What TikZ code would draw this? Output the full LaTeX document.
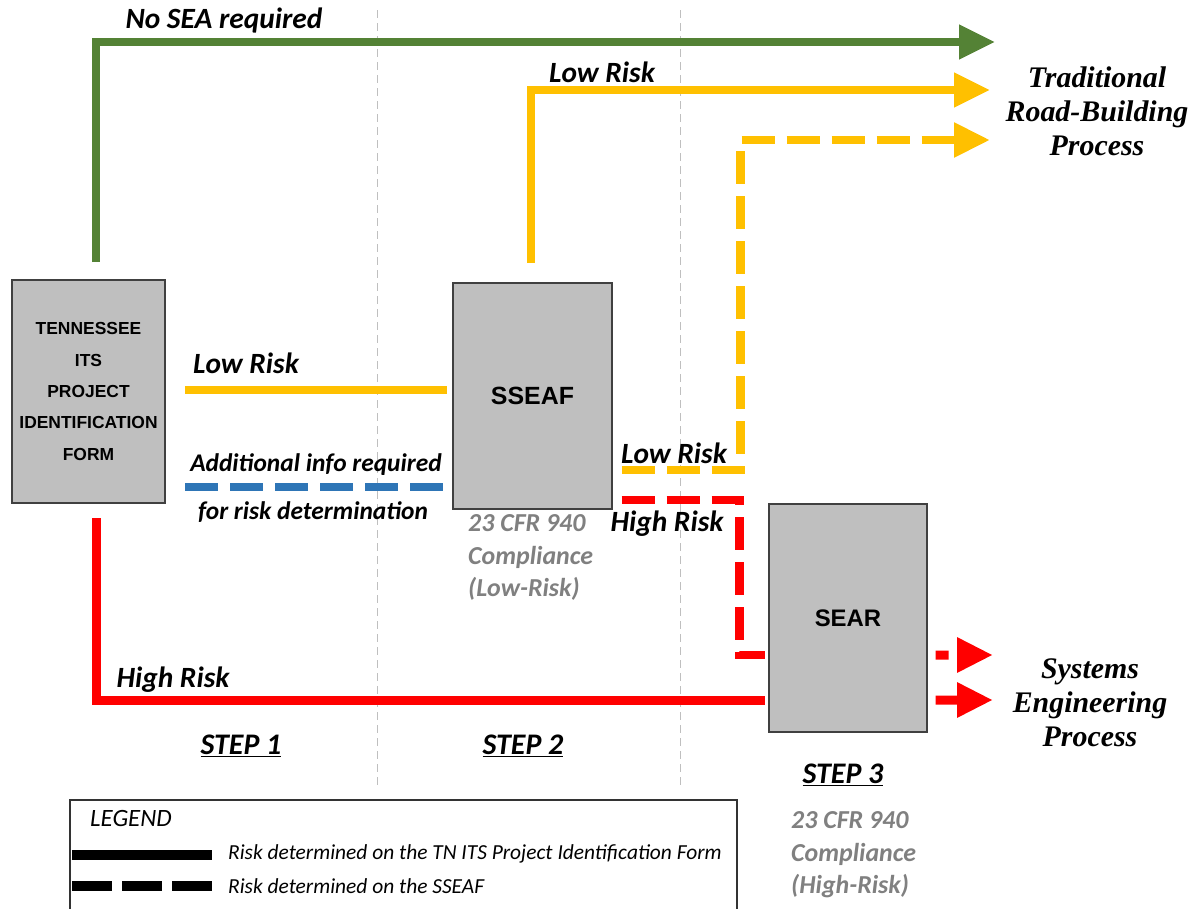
\documentclass[tikz,border=0pt]{standalone}
\usepackage{fontspec}
\setmainfont{Carlito}
\newfontfamily\boxfont{Liberation Sans}
\newfontfamily\procfont{Liberation Serif}
\usetikzlibrary{arrows.meta}
\definecolor{seagreen}{RGB}{84,130,53}
\definecolor{lowrisk}{RGB}{255,192,0}
\definecolor{highrisk}{RGB}{255,0,0}
\definecolor{moreinfo}{RGB}{46,117,182}
\definecolor{formgray}{RGB}{191,191,191}
\definecolor{notegray}{RGB}{128,128,128}
\begin{document}
\begin{tikzpicture}[x=1bp, y=-1bp,
    form/.style  = {rectangle, draw=black!75, line width=1.3bp, fill=formgray, align=center, inner sep=0},
    flow/.style  = {line width=8bp},
    dashflow/.style = {line width=8.5bp, dash pattern=on 33bp off 12bp},
    tip/.style   = {-{Triangle[length=36bp, width=33bp]}},
    lbl/.style   = {font=\fontsize{29.5}{34}\selectfont\bfseries\itshape, inner sep=0},
    info/.style  = {font=\fontsize{25.5}{30}\selectfont\bfseries\itshape, inner sep=0},
    note/.style  = {font=\fontsize{26}{33}\selectfont\bfseries\itshape, text=notegray, align=left, inner sep=0, anchor=north west},
    proc/.style  = {font=\fontsize{30}{34}\selectfont\procfont\bfseries\itshape, align=center, inner sep=0},
    stepname/.style = {font=\fontsize{30}{34}\selectfont\bfseries\itshape, inner sep=0}]
    \useasboundingbox (0,0) rectangle (1194,909);

    \draw[black!25, line width=1bp, dash pattern=on 8bp off 5bp] (377,10) -- (377,785);
    \draw[black!25, line width=1bp, dash pattern=on 8bp off 5bp] (680,10) -- (680,785);

    \node[form, minimum width=153bp, minimum height=223bp, font=\fontsize{17.5}{31.5}\selectfont\boxfont\bfseries] (tnform) at (88.5,391.5) {TENNESSEE\\ITS\\PROJECT\\IDENTIFICATION\\FORM};
    \node[form, minimum width=159bp, minimum height=226bp, font=\fontsize{25}{28}\selectfont\boxfont\bfseries] (sseaf) at (532.5,396) {SSEAF};
    \node[form, minimum width=158bp, minimum height=228bp, font=\fontsize{24}{28}\selectfont\boxfont\bfseries] (sear) at (848,618) {SEAR};

    \coordinate (noseaA)  at (96,262);
    \coordinate (noseaB)  at (995,42);
    \coordinate (lowtopA) at (531,263);
    \coordinate (lowtopB) at (990,90);
    \coordinate (lowsseB) at (990,140);
    \coordinate (lowA)    at (185,390);
    \coordinate (lowB)    at (447,390);
    \coordinate (infoA)   at (185,487);
    \coordinate (infoB)   at (443,487);
    \coordinate (highA)   at (96,518);
    \coordinate (sysdash) at (993,655);
    \coordinate (syssol)  at (993,700);

    \draw[flow, seagreen, tip]        (noseaA) |- (noseaB);
    \draw[flow, lowrisk, tip]         (lowtopA) |- (lowtopB);
    \draw[flow, lowrisk]              (lowA) -- (lowB);
    \draw[dashflow, moreinfo]         (infoA) -- (infoB);
    \draw[dashflow, lowrisk, tip]     ([xshift=9bp,yshift=-74bp]sseaf.east) -| ([xshift=208bp]sseaf.north |- lowsseB) -- (lowsseB);
    \draw[dashflow, highrisk]         ([xshift=9bp,yshift=-104bp]sseaf.east) -| ([xshift=-29bp,yshift=-37bp]sear.west) -- ([xshift=-3bp,yshift=-37bp]sear.west);
    \draw[flow, line width=9bp, highrisk] (highA) |- ([xshift=-3bp,yshift=-82bp]sear.west);
    \draw[line width=9bp, highrisk, dash pattern=on 13bp off 10bp, tip] ([xshift=8bp,yshift=-37bp]sear.east) -- (sysdash);
    \draw[flow, line width=9bp, highrisk, tip] ([xshift=8bp,yshift=-82bp]sear.east) -- (syssol);

    \node[lbl]  (nosea)    at (224,20)  {No SEA required};
    \node[lbl]  (lowtop)   at (602,72)  {Low Risk};
    \node[lbl]  (lowform)  at (246,363) {Low Risk};
    \node[info] (info1)    at (316,465) {Additional info required};
    \node[info] (info2)    at (313,512) {for risk determination};
    \node[lbl]  (lowsse)   at (674,453) {Low Risk};
    \node[lbl]  (highsse)  at (667,524) {High Risk};
    \node[lbl]  (highform) at (173,680) {High Risk};

    \node[note] (cfrlow)  at (468,514) {23 CFR 940\\Compliance\\(Low-Risk)};
    \node[note] (cfrhigh) at (791,811) {23 CFR 940\\Compliance\\(High-Risk)};

    \node[stepname] (step1) at (241,746) {\underline{STEP 1}};
    \node[stepname] (step2) at (523,746) {\underline{STEP 2}};
    \node[stepname] (step3) at (843,775) {\underline{STEP 3}};

    \node[proc] (trad) at (1097,111) {Traditional\\Road-Building\\Process};
    \node[proc] (syse) at (1090,703) {Systems\\Engineering\\Process};

    \draw[black!80, line width=1.3bp] (70,909) -- (70,800) -- (737,800) -- (737,909);
    \node[anchor=west, inner sep=0, font=\fontsize{25}{28}\selectfont\itshape] (legend) at (90,818) {LEGEND};
    \coordinate (keysolA) at (72,855);
    \coordinate (keysolB) at (212,855);
    \coordinate (keydasA) at (72,886);
    \coordinate (keydasB) at (212,886);
    \draw[line width=10bp] (keysolA) -- (keysolB);
    \draw[line width=10bp, dash pattern=on 40bp off 10bp] (keydasA) -- (keydasB);
    \node[anchor=west, inner sep=0, font=\fontsize{21.5}{24}\selectfont\itshape] (keysol) at (228,854) {Risk determined on the TN ITS Project Identification Form};
    \node[anchor=west, inner sep=0, font=\fontsize{21.5}{24}\selectfont\itshape] (keydas) at (228,886) {Risk determined on the SSEAF};
\end{tikzpicture}
\end{document}
